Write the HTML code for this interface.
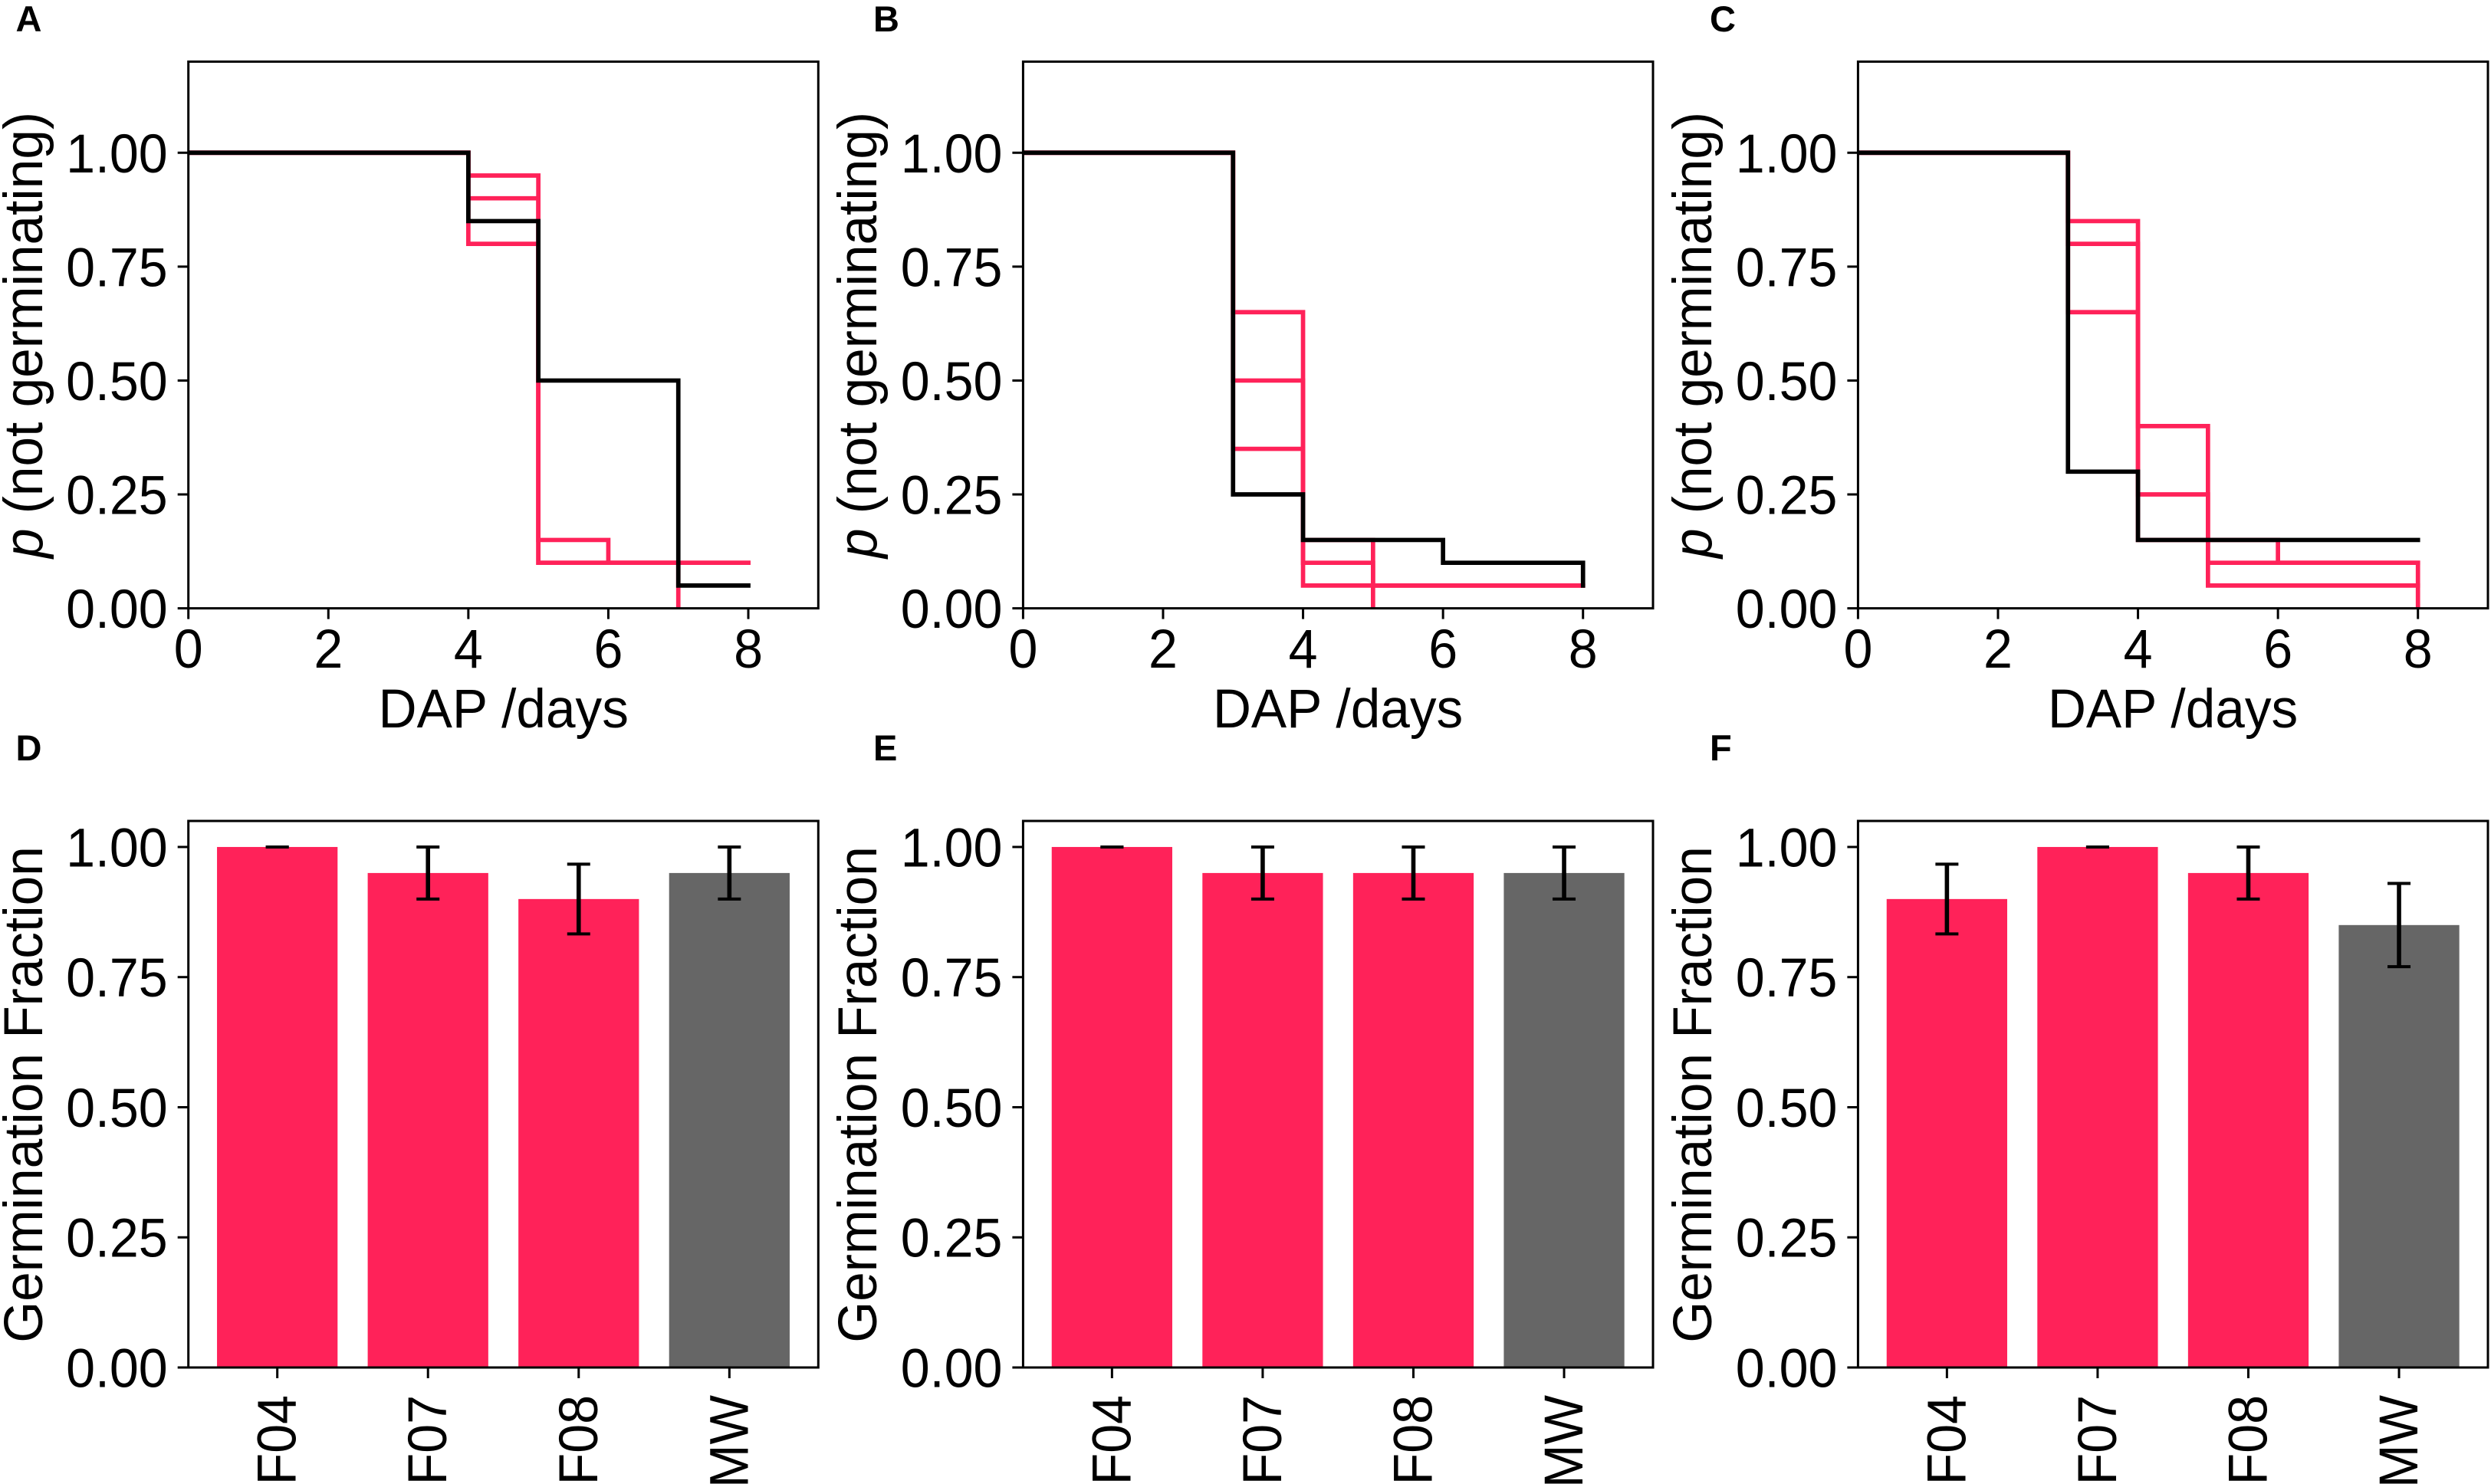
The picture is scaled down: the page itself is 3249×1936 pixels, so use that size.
<!DOCTYPE html>
<html lang="en">
<head>
<meta charset="utf-8">
<title>Germination curves and fractions</title>
<style>
  html, body { margin: 0; padding: 0; background: #fff; }
  svg { display: block; font-family: "Liberation Sans", Arial, sans-serif; }
  .tick-text { font-size: 71px; fill: #000; }
  .axis-title { font-size: 71px; fill: #000; text-anchor: middle; }
  .panel-letter { font-size: 47px; font-weight: 700; fill: #000; }
</style>
</head>
<body>
<svg id="figure" xmlns="http://www.w3.org/2000/svg" width="3249" height="1936" viewBox="0 0 3249 1936">
  <rect x="0" y="0" width="3249" height="1936" fill="#ffffff"/>
  <text class="panel-letter" x="20.5" y="41">A</text>
  <text class="panel-letter" x="1139" y="41">B</text>
  <text class="panel-letter" x="2230" y="41">C</text>
  <text class="panel-letter" x="20.5" y="992">D</text>
  <text class="panel-letter" x="1139" y="992">E</text>
  <text class="panel-letter" x="2230" y="992">F</text>

  <text class="axis-title" transform="translate(55 437) rotate(-90) scale(.977 1)"><tspan font-style="italic">p</tspan><tspan dx="0"> (not germinating)</tspan></text>
  <text class="axis-title" transform="translate(1143 437) rotate(-90) scale(.977 1)"><tspan font-style="italic">p</tspan><tspan dx="0"> (not germinating)</tspan></text>
  <text class="axis-title" transform="translate(2232 437) rotate(-90) scale(.977 1)"><tspan font-style="italic">p</tspan><tspan dx="0"> (not germinating)</tspan></text>
  <text class="axis-title" transform="translate(656.7 949) scale(.977 1)">DAP /days</text>
  <text class="axis-title" transform="translate(1745 949) scale(.977 1)">DAP /days</text>
  <text class="axis-title" transform="translate(2834 949) scale(.977 1)">DAP /days</text>
  <text class="axis-title" transform="translate(55 1428) rotate(-90) scale(.977 1)">Germination Fraction</text>
  <text class="axis-title" transform="translate(1143 1428) rotate(-90) scale(.977 1)">Germination Fraction</text>
  <text class="axis-title" transform="translate(2232 1428) rotate(-90) scale(.977 1)">Germination Fraction</text>
</svg>
<script>
// ---- Shared axis ticks and categories ----
const dayTicks = [0, 2, 4, 6, 8];
const survivalTicks = [0, 0.25, 0.5, 0.75, 1];
const fractionTicks = [0, 0.25, 0.5, 0.75, 1];
const isolates = ['F04', 'F07', 'F08', 'MW'];

// ---- Panel A step series (days at which the value changes, value from that day) ----
const aF04Days = [0, 4, 5, 7];
const aF04Values = [1, 0.95, 0.1, 0];
const aF07Days = [0, 4, 5, 6, 8];
const aF07Values = [1, 0.9, 0.15, 0.1, 0.1];
const aF08Days = [0, 4, 5, 8];
const aF08Values = [1, 0.8, 0.1, 0.1];
const aMwDays = [0, 4, 5, 7, 8];
const aMwValues = [1, 0.85, 0.5, 0.05, 0.05];

// ---- Panel B step series ----
const bF04Days = [0, 3, 4, 5];
const bF04Values = [1, 0.65, 0.15, 0];
const bF07Days = [0, 3, 4, 5, 8];
const bF07Values = [1, 0.5, 0.1, 0.05, 0.05];
const bF08Days = [0, 3, 4, 8];
const bF08Values = [1, 0.35, 0.05, 0.05];
const bMwDays = [0, 3, 4, 6, 8];
const bMwValues = [1, 0.25, 0.15, 0.1, 0.05];

// ---- Panel C step series ----
const cF04Days = [0, 3, 4, 5, 8];
const cF04Values = [1, 0.85, 0.4, 0.05, 0.05];
const cF07Days = [0, 3, 4, 5, 8, 8];
const cF07Values = [1, 0.8, 0.25, 0.1, 0.1, 0];
const cF08Days = [0, 3, 4, 6, 8];
const cF08Values = [1, 0.65, 0.15, 0.1, 0.1];
const cMwDays = [0, 3, 4, 8];
const cMwValues = [1, 0.3, 0.15, 0.15];

// ---- Panels D, E, F bars ----
const dFractions = [1, 0.95, 0.9, 0.95];
const dErrors = [0, 0.05, 0.067, 0.05];
const eFractions = [1, 0.95, 0.95, 0.95];
const eErrors = [0, 0.05, 0.05, 0.05];
const fFractions = [0.9, 1, 0.95, 0.85];
const fErrors = [0.067, 0, 0.05, 0.08];

const NS = 'http://www.w3.org/2000/svg';
const figure = document.getElementById('figure');
const PINK = '#ff2259';
const GREY = '#666666';
const SPINE = 3;
const TICK = 14;
const AXIS_W = 821.6;

function make(tag, parent, geometry) {
  const el = document.createElementNS(NS, tag);
  for (const k in geometry) el.setAttribute(k, geometry[k]);
  parent.appendChild(el);
  return el;
}

function drawFrame(g, id, left, top, right, bottom) {
  const frame = make('rect', g, { x: left, y: top, width: right - left, height: bottom - top, fill: 'none', stroke: '#000', 'stroke-width': SPINE });
  
  
}

function drawYAxis(g, id, ticks, left, yScale) {
  ticks.forEach(function (t) {
    const y = yScale(t);
    const mark = make('line', g, { x1: left - TICK, x2: left, y1: y, y2: y, stroke: '#000', 'stroke-width': SPINE });
    
    
    const label = make('text', g, { transform: 'translate(' + (left - 27) + ' ' + (y + 25.5) + ') scale(.96 1)', 'text-anchor': 'end', class: 'tick-text' });
    
    
    label.textContent = t.toFixed(2);
  });
}

function drawStepLine(g, name, days, values, colour, xScale, yScale, clipId) {
  let d = 'M' + xScale(days[0]) + ' ' + yScale(values[0]);
  for (let i = 1; i < days.length; i++) {
    d += 'H' + xScale(days[i]) + 'V' + yScale(values[i]);
  }
  const path = make('path', g, { d: d, fill: 'none', stroke: colour, 'stroke-width': 5.7, 'stroke-linecap': 'square', 'stroke-linejoin': 'miter', 'clip-path': 'url(#' + clipId + ')' });
  
  
}

function drawStepPanel(id, left, series) {
  const top = 80.4, bottom = 793.6;
  const right = left + AXIS_W;
  const xScale = function (v) { return left + v * AXIS_W / 9; };
  const yScale = function (v) { return bottom - v * (bottom - top) / 1.2; };
  const g = make('g', figure, {});
  
  

  const clip = make('clipPath', g, { id: 'clip-' + id });
  make('rect', clip, { x: left, y: top, width: right - left, height: bottom - top });

  series.forEach(function (s) {
    drawStepLine(g, s.name + '-' + id, s.days, s.values, s.colour, xScale, yScale, 'clip-' + id);
  });

  drawFrame(g, id, left, top, right, bottom);
  drawYAxis(g, id, survivalTicks, left, yScale);

  dayTicks.forEach(function (t) {
    const x = xScale(t);
    const mark = make('line', g, { x1: x, x2: x, y1: bottom, y2: bottom + TICK, stroke: '#000', 'stroke-width': SPINE });
    
    
    const label = make('text', g, { transform: 'translate(' + x + ' 871) scale(.96 1)', 'text-anchor': 'middle', class: 'tick-text' });
    
    
    label.textContent = String(t);
  });
}

function drawBarPanel(id, left, fractions, errors) {
  const top = 1071, bottom = 1784;
  const right = left + AXIS_W;
  const xScale = function (i) { return left + (i + 0.59) * AXIS_W / 4.18; };
  const band = AXIS_W / 4.18;
  const yScale = function (v) { return bottom - v * (bottom - top) / 1.05; };
  const g = make('g', figure, {});
  
  

  fractions.forEach(function (v, i) {
    const cx = xScale(i);
    const bar = make('rect', g, { x: cx - 0.4 * band, y: yScale(v), width: 0.8 * band, height: bottom - yScale(v), fill: isolates[i] === 'MW' ? GREY : PINK });
    
    
  });

  drawFrame(g, id, left, top, right, bottom);
  drawYAxis(g, id, fractionTicks, left, yScale);

  fractions.forEach(function (v, i) {
    const cx = xScale(i);
    const hi = yScale(Math.min(v + errors[i], 1));
    const lo = yScale(v - errors[i]);
    const stem = make('line', g, { x1: cx, x2: cx, y1: hi, y2: lo, stroke: '#000', 'stroke-width': 5.6 });
    
    
    [hi, lo].forEach(function (y) {
      const cap = make('line', g, { x1: cx - 15, x2: cx + 15, y1: y, y2: y, stroke: '#000', 'stroke-width': 4 });
      
      
    });

    const mark = make('line', g, { x1: cx, x2: cx, y1: bottom, y2: bottom + TICK, stroke: '#000', 'stroke-width': SPINE });
    
    
    const label = make('text', g, { transform: 'translate(' + (cx + 24) + ' 1820) rotate(-90) scale(.96 1)', 'text-anchor': 'end', class: 'tick-text' });
    
    
    label.textContent = isolates[i];
  });
}

drawStepPanel('a', 245.7, [
  { name: 'line-f04', days: aF04Days, values: aF04Values, colour: PINK },
  { name: 'line-f07', days: aF07Days, values: aF07Values, colour: PINK },
  { name: 'line-f08', days: aF08Days, values: aF08Values, colour: PINK },
  { name: 'line-mw', days: aMwDays, values: aMwValues, colour: '#000' }
]);
drawStepPanel('b', 1334.4, [
  { name: 'line-f04', days: bF04Days, values: bF04Values, colour: PINK },
  { name: 'line-f07', days: bF07Days, values: bF07Values, colour: PINK },
  { name: 'line-f08', days: bF08Days, values: bF08Values, colour: PINK },
  { name: 'line-mw', days: bMwDays, values: bMwValues, colour: '#000' }
]);
drawStepPanel('c', 2423.4, [
  { name: 'line-f04', days: cF04Days, values: cF04Values, colour: PINK },
  { name: 'line-f07', days: cF07Days, values: cF07Values, colour: PINK },
  { name: 'line-f08', days: cF08Days, values: cF08Values, colour: PINK },
  { name: 'line-mw', days: cMwDays, values: cMwValues, colour: '#000' }
]);
drawBarPanel('d', 245.7, dFractions, dErrors);
drawBarPanel('e', 1334.4, eFractions, eErrors);
drawBarPanel('f', 2423.4, fFractions, fErrors);
</script>
</body>
</html>
